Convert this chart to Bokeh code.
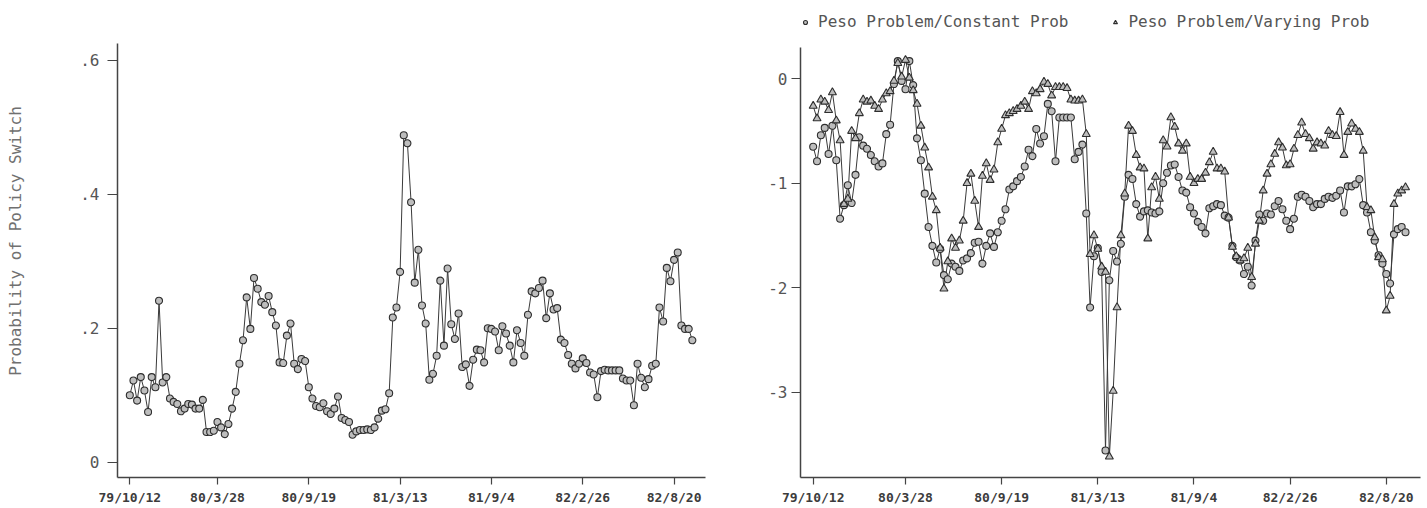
from bokeh.plotting import figure
from bokeh.layouts import row
from bokeh.models import FixedTicker, Legend, LegendItem, Range1d
from bokeh.embed import file_html
from bokeh.resources import INLINE

# ---------------- data ----------------
tick_labels = ["79/10/12", "80/3/28", "80/9/19", "81/3/13", "81/9/4", "82/2/26", "82/8/20"]
tick_weeks = [0, 24, 49, 74, 99, 124, 149]

prob_switch = [
    0.100, 0.122, 0.092, 0.127, 0.107, 0.075, 0.127, 0.112, 0.241, 0.119,
    0.127, 0.095, 0.090, 0.087, 0.076, 0.080, 0.087, 0.086, 0.080, 0.080,
    0.093, 0.045, 0.045, 0.047, 0.060, 0.052, 0.042, 0.057, 0.080, 0.105,
    0.147, 0.182, 0.246, 0.199, 0.275, 0.259, 0.239, 0.235, 0.248, 0.224,
    0.204, 0.149, 0.148, 0.189, 0.207, 0.147, 0.139, 0.154, 0.151, 0.112,
    0.095, 0.084, 0.082, 0.088, 0.076, 0.072, 0.080, 0.098, 0.066, 0.063,
    0.060, 0.041, 0.046, 0.048, 0.048, 0.049, 0.048, 0.052, 0.065, 0.077,
    0.079, 0.103, 0.216, 0.231, 0.284, 0.488, 0.476, 0.388, 0.268, 0.317,
    0.234, 0.207, 0.123, 0.132, 0.159, 0.271, 0.174, 0.289, 0.206, 0.184,
    0.222, 0.142, 0.146, 0.114, 0.153, 0.168, 0.167, 0.149, 0.200, 0.199,
    0.195, 0.167, 0.203, 0.192, 0.174, 0.149, 0.197, 0.178, 0.159, 0.220,
    0.255, 0.252, 0.260, 0.271, 0.215, 0.252, 0.228, 0.230, 0.183, 0.178,
    0.160, 0.147, 0.140, 0.147, 0.155, 0.148, 0.134, 0.131, 0.097, 0.136,
    0.138, 0.137, 0.137, 0.137, 0.137, 0.125, 0.122, 0.122, 0.085, 0.147,
    0.126, 0.112, 0.124, 0.144, 0.147, 0.231, 0.210, 0.290, 0.270, 0.302,
    0.313, 0.204, 0.199, 0.199, 0.182,
]

peso_constant = [
    -0.65, -0.79, -0.54, -0.47, -0.72, -0.45, -0.78, -1.34, -1.21, -1.02,
    -1.19, -0.92, -0.56, -0.64, -0.67, -0.73, -0.79, -0.84, -0.81, -0.53,
    -0.44, -0.05, 0.17, -0.02, -0.10, 0.17, -0.06, -0.57, -0.78, -1.10,
    -1.42, -1.60, -1.76, -1.63, -1.88, -1.92, -1.77, -1.80, -1.84, -1.74,
    -1.72, -1.67, -1.57, -1.56, -1.77, -1.60, -1.48, -1.61, -1.47, -1.36,
    -1.25, -1.06, -1.03, -0.98, -0.94, -0.84, -0.68, -0.74, -0.48, -0.62,
    -0.55, -0.24, -0.31, -0.79, -0.37, -0.37, -0.37, -0.37, -0.77, -0.70,
    -0.63, -1.29, -2.19, -1.70, -1.62, -1.85, -3.56, -1.93, -1.65, -1.75,
    -1.58, -1.13, -0.92, -0.96, -1.20, -1.32, -1.27, -1.26, -1.28, -1.29,
    -1.27, -1.00, -0.90, -0.83, -0.82, -0.94, -1.07, -1.09, -1.23, -1.29,
    -1.37, -1.42, -1.48, -1.24, -1.22, -1.20, -1.21, -1.31, -1.33, -1.60,
    -1.71, -1.74, -1.87, -1.80, -1.98, -1.55, -1.30, -1.36, -1.29, -1.30,
    -1.22, -1.17, -1.25, -1.36, -1.44, -1.34, -1.13, -1.11, -1.13, -1.17,
    -1.23, -1.20, -1.20, -1.15, -1.13, -1.14, -1.12, -1.07, -1.28, -1.03,
    -1.03, -1.01, -0.96, -1.21, -1.28, -1.47, -1.55, -1.69, -1.77, -1.87,
    -1.96, -1.49, -1.44, -1.42, -1.47,
]

peso_varying = [
    -0.26, -0.38, -0.20, -0.22, -0.30, -0.13, -0.40, -0.59, -1.20, -1.15,
    -0.50, -0.57, -0.33, -0.20, -0.22, -0.21, -0.26, -0.29, -0.20, -0.14,
    -0.12, -0.02, 0.15, 0.02, 0.18, 0.01, -0.11, -0.24, -0.45, -0.66,
    -0.85, -1.13, -1.26, -1.62, -2.01, -1.75, -1.53, -1.62, -1.55, -1.36,
    -1.00, -0.91, -1.17, -1.42, -0.93, -0.81, -0.97, -0.87, -0.61, -0.48,
    -0.35, -0.33, -0.31, -0.29, -0.26, -0.22, -0.29, -0.12, -0.14, -0.10,
    -0.03, -0.05, -0.16, -0.08, -0.08, -0.08, -0.09, -0.20, -0.21, -0.21,
    -0.20, -0.53, -1.68, -1.50, -1.63, -1.80, -1.85, -3.62, -2.99, -2.19,
    -1.50, -1.10, -0.45, -0.50, -0.73, -0.85, -0.86, -1.53, -1.04, -0.94,
    -1.15, -0.59, -0.65, -0.37, -0.46, -0.62, -0.69, -0.62, -0.94, -1.00,
    -0.96, -0.96, -0.90, -0.80, -0.70, -0.86, -0.86, -0.89, -1.33, -1.61,
    -1.70, -1.74, -1.72, -1.62, -1.90, -1.58, -1.36, -1.07, -0.91, -0.82,
    -0.72, -0.61, -0.66, -0.83, -0.82, -0.67, -0.54, -0.42, -0.53, -0.57,
    -0.67, -0.61, -0.62, -0.64, -0.50, -0.54, -0.55, -0.32, -0.73, -0.51,
    -0.43, -0.48, -0.51, -0.69, -1.23, -1.26, -1.52, -1.71, -1.73, -2.22,
    -2.08, -1.20, -1.10, -1.07, -1.04,
]

left_yticks = [0, 0.2, 0.4, 0.6]
left_ylabels = ["0", ".2", ".4", ".6"]
right_yticks = [-3, -2, -1, 0]
right_ylabels = ["-3", "-2", "-1", "0"]

# ---------------- style ----------------
FONT = "DejaVu Sans Mono"
AXIS_COLOR = "#444444"
LINE_COLOR = "#3a3a3a"
MARK_LINE = "#2e2e2e"
MARK_FILL = "#bdbdbd"
TOP_BORDER = 4
BOTTOM_BORDER = 31


def style_axes(p, yticks, ylabels, ytick_out, ystandoff):
    p.outline_line_color = None
    p.xgrid.visible = False
    p.ygrid.visible = False
    p.background_fill_color = "white"
    p.border_fill_color = "white"

    p.xaxis.ticker = FixedTicker(ticks=tick_weeks)
    p.xaxis.major_label_overrides = {t: l for t, l in zip(tick_weeks, tick_labels)}
    p.xaxis.major_tick_out = 7
    p.xaxis.major_tick_in = 0
    p.xaxis.minor_tick_line_color = None
    p.xaxis.major_label_standoff = 5
    p.xaxis.major_label_text_font = FONT
    p.xaxis.major_label_text_font_size = "13px"
    p.xaxis.major_label_text_font_style = "bold"
    p.xaxis.major_label_text_color = "#3c3c3c"

    p.yaxis.ticker = FixedTicker(ticks=yticks)
    p.yaxis.major_label_overrides = {t: l for t, l in zip(yticks, ylabels)}
    p.yaxis.major_tick_out = ytick_out
    p.yaxis.major_tick_in = 0
    p.yaxis.minor_tick_line_color = None
    p.yaxis.major_label_standoff = ystandoff
    p.yaxis.major_label_text_font = FONT
    p.yaxis.major_label_text_font_size = "16px"
    p.yaxis.major_label_text_color = "#555555"

    for ax in (p.xaxis, p.yaxis):
        ax.axis_line_color = AXIS_COLOR
        ax.axis_line_width = 1.5
        ax.major_tick_line_color = AXIS_COLOR
        ax.major_tick_line_width = 1.2


# ---------------- left panel ----------------
x_left = list(range(len(prob_switch)))
p1 = figure(
    width=760, height=508,
    x_range=Range1d(-3.37, 157.6), y_range=Range1d(-0.0228, 0.6831),
    output_backend="svg", toolbar_location=None,
    min_border_left=117, min_border_right=55,
    min_border_top=TOP_BORDER, min_border_bottom=BOTTOM_BORDER,
)
style_axes(p1, left_yticks, left_ylabels, 10, 8)
p1.yaxis.bounds = (-0.0228, 0.625)
p1.yaxis.axis_label = "Probability of Policy Switch"
p1.yaxis.axis_label_text_font = FONT
p1.yaxis.axis_label_text_font_size = "16px"
p1.yaxis.axis_label_text_font_style = "normal"
p1.yaxis.axis_label_text_color = "#707070"
p1.yaxis.axis_label_standoff = 52

p1.line(x_left, prob_switch, line_color=LINE_COLOR, line_width=1)
p1.scatter(x_left, prob_switch, marker="circle", size=7,
           line_color=MARK_LINE, fill_color=MARK_FILL, line_width=1.1)

# ---------------- right panel ----------------
x_c = list(range(len(peso_constant)))
x_v = list(range(len(peso_varying)))
p2 = figure(
    width=667, height=508,
    x_range=Range1d(-3.3, 157.9), y_range=Range1d(-3.819, 0.712),
    output_backend="svg", toolbar_location=None,
    min_border_left=40, min_border_right=7,
    min_border_top=TOP_BORDER, min_border_bottom=BOTTOM_BORDER,
)
style_axes(p2, right_yticks, right_ylabels, 9, 4)
p2.yaxis.bounds = (-3.819, 0.30)

p2.line(x_c, peso_constant, line_color=LINE_COLOR, line_width=1)
p2.line(x_v, peso_varying, line_color=LINE_COLOR, line_width=1)
c_sc = p2.scatter(x_c, peso_constant, marker="circle", size=7,
                  line_color=MARK_LINE, fill_color=MARK_FILL, line_width=1.1)
t_sc = p2.scatter(x_v, peso_varying, marker="triangle", size=8,
                  line_color=MARK_LINE, fill_color=MARK_FILL, line_width=1.1)

legend = Legend(
    items=[
        LegendItem(label="Peso Problem/Constant Prob", renderers=[c_sc]),
        LegendItem(label="Peso Problem/Varying Prob", renderers=[t_sc]),
    ],
    orientation="horizontal",
    location=(0, 446),
    border_line_color=None,
    background_fill_alpha=0,
    label_text_font=FONT,
    label_text_font_size="16px",
    label_text_color="#555555",
    glyph_width=10,
    glyph_height=12,
    label_height=18,
    label_standoff=8,
    spacing=42,
    padding=0,
    margin=0,
)
p2.add_layout(legend, "center")

layout = row(p1, p2)
open("out.html", "w").write(file_html(layout, INLINE))
